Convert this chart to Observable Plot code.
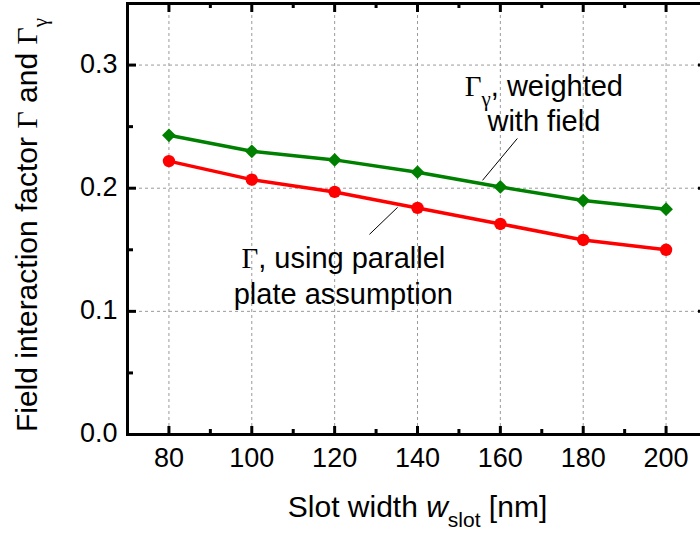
<!DOCTYPE html>
<html><head><meta charset="utf-8">
<script src="https://cdn.jsdelivr.net/npm/d3@7"></script>
<script src="https://cdn.jsdelivr.net/npm/@observablehq/plot@0.6"></script>
<style>body{margin:0;background:#fff;overflow:hidden}</style>
</head><body><div id="chart"></div>
<script>
// ---- data ----
const slotWidths = [80, 100, 120, 140, 160, 180, 200];
const gammaWeighted = [0.243, 0.230, 0.223, 0.213, 0.201, 0.190, 0.183];
const gammaParallel = [0.222, 0.207, 0.197, 0.184, 0.171, 0.158, 0.150];
const xTicks = [80, 100, 120, 140, 160, 180, 200];
const xMinorTicks = [90, 110, 130, 150, 170, 190];
const yTicks = [0, 0.1, 0.2, 0.3];
const yMinorTicks = [0.05, 0.15, 0.25];
const yLabel = "Field interaction factor {g:Γ} and {g:Γ}{gs:γ}";
const xLabel = "Slot width {i:w}{s:slot} [nm]";
const annotationTexts = ["{g:Γ}{gs:γ}, weighted\nwith field", "{g:Γ}, using parallel\nplate assumption"];
const annotationX = [170.5, 122.1];
const annotationY = [0.270, 0.130];
const leaderX1 = [164.1, 135.2];
const leaderY1 = [0.2404, 0.1845];
const leaderX2 = [155.7, 128.4];
const leaderY2 = [0.2064, 0.1625];

// ---- layout ----
const W = 700, H = 533, mL = 127, mR = -7, mT = 3, mB = 99;
const innerW = W - mL - mR, innerH = H - mT - mB;
const FONT = "'Liberation Sans', Arial, sans-serif";
const FS = 27, LFS = 30, AFS = 29;

const green = slotWidths.map((x, i) => ({x, y: gammaWeighted[i]}));
const red = slotWidths.map((x, i) => ({x, y: gammaParallel[i]}));
const ann = annotationTexts.map((t, i) => ({t, x: annotationX[i], y: annotationY[i]}));
const leaders = leaderX1.map((d, i) => ({x1: d, y1: leaderY1[i], x2: leaderX2[i], y2: leaderY2[i]}));

const gridStyle = {stroke: "#9a9a9a", strokeWidth: 1, strokeDasharray: "3,3"};

const svg = Plot.plot({
  width: W, height: H,
  marginLeft: mL, marginRight: mR, marginTop: mT, marginBottom: mB,
  style: {fontFamily: FONT, fontSize: FS + "px", color: "black", background: "white", overflow: "hidden"},
  x: {domain: [70, 210]},
  y: {domain: [0, 0.35]},
  marks: [
    Plot.ruleX(xTicks, {x: d => d, ...gridStyle}),
    Plot.ruleY(yTicks.filter(d => d > 0), {y: d => d, ...gridStyle}),
    Plot.link(leaders, {x1: "x1", y1: "y1", x2: "x2", y2: "y2", stroke: "black", strokeWidth: 1}),
    Plot.line(green, {x: "x", y: "y", stroke: "#008000", strokeWidth: 3.5}),
    Plot.line(red, {x: "x", y: "y", stroke: "#ff0000", strokeWidth: 3.5}),
    Plot.dot(green, {x: "x", y: "y", symbol: "diamond2", r: 6.2, fill: "#008000", stroke: "none"}),
    Plot.dot(red, {x: "x", y: "y", symbol: "circle", r: 6.2, fill: "#ff0000", stroke: "none"}),
    Plot.text(ann, {x: "x", y: "y", text: "t", fontSize: AFS, lineHeight: 1.24, textAnchor: "middle", lineAnchor: "middle", fill: "black"}),
    // tick marks (inward)
    Plot.ruleX(xTicks, {x: d => d, insetTop: innerH - 8, stroke: "black", strokeWidth: 3}),
    Plot.ruleX(xMinorTicks, {x: d => d, insetTop: innerH - 5, stroke: "black", strokeWidth: 3}),
    Plot.ruleX(xTicks, {x: d => d, insetBottom: innerH - 9, stroke: "black", strokeWidth: 3}),
    Plot.ruleX(xMinorTicks, {x: d => d, insetBottom: innerH - 5, stroke: "black", strokeWidth: 3}),
    Plot.ruleY(yTicks, {y: d => d, insetRight: innerW - 9, stroke: "black", strokeWidth: 3}),
    Plot.ruleY(yMinorTicks, {y: d => d, insetRight: innerW - 6, stroke: "black", strokeWidth: 3}),
    Plot.ruleY(yTicks, {y: d => d, insetLeft: innerW - 9, stroke: "black", strokeWidth: 3}),
    Plot.ruleY(yMinorTicks, {y: d => d, insetLeft: innerW - 6, stroke: "black", strokeWidth: 3}),
    Plot.frame({stroke: "black", strokeWidth: 3}),
    Plot.axisX({ticks: xTicks, tickSize: 0, tickPadding: 13, label: null, fontSize: FS, tickFormat: d => String(d)}),
    Plot.axisY({ticks: yTicks, tickSize: 0, tickPadding: 10, label: null, fontSize: FS, dy: -1, tickFormat: d => d.toFixed(1)}),
    Plot.text([yLabel], {frameAnchor: "left", text: d => d, rotate: -90, dx: -100, dy: 6, textAnchor: "middle", lineAnchor: "middle", fontSize: LFS, fill: "black"}),
    Plot.text([xLabel], {frameAnchor: "bottom", text: d => d, dy: 73, textAnchor: "middle", lineAnchor: "middle", fontSize: LFS, fill: "black"})
  ]
});

// rich-text post-processing: Greek letters in serif, subscripts, italics
const NS = "http://www.w3.org/2000/svg";
function rich(node) {
  const s = node.textContent;
  if (!s.includes("{")) return;
  while (node.firstChild) node.removeChild(node.firstChild);
  const re = /\{(\w+):([^}]*)\}|([^{]+)/g;
  let m;
  while ((m = re.exec(s))) {
    const t = document.createElementNS(NS, "tspan");
    if (m[3] !== undefined) {
      t.textContent = m[3];
    } else {
      const k = m[1];
      t.textContent = m[2];
      if (k === "g" || k === "gs") t.setAttribute("font-family", "'Liberation Serif', 'Times New Roman', serif");
      if (k === "gs" || k === "s") { t.setAttribute("font-size", "21"); t.setAttribute("baseline-shift", "-10"); }
      if (k === "i") t.setAttribute("font-style", "italic");
    }
    node.appendChild(t);
  }
}
svg.querySelectorAll("text").forEach(t => {
  const lines = t.querySelectorAll(":scope > tspan");
  if (lines.length) lines.forEach(rich); else rich(t);
});

document.getElementById("chart").appendChild(svg);
</script>
</body></html>
